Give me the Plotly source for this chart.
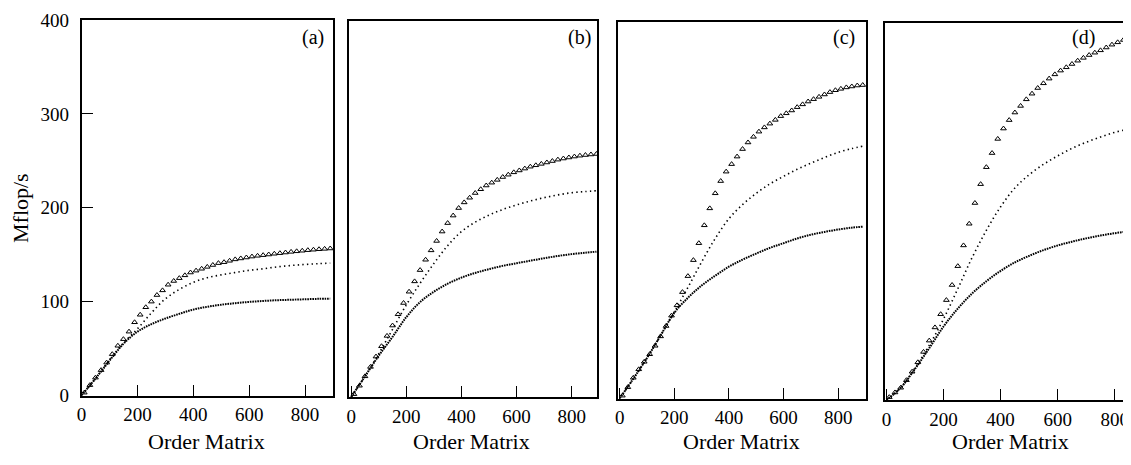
import plotly.graph_objects as go

# ---------------- data ----------------
order_tri = [10, 30, 50, 70, 90, 110, 130, 150, 170, 190, 210, 230, 250, 270, 290,
             310, 330, 350, 370, 390, 410, 430, 450, 470, 490, 510, 530, 550, 570, 590,
             610, 630, 650, 670, 690, 710, 730, 750, 770, 790, 810, 830, 850, 870, 890]
order_line = [0, 50, 100, 150, 200, 250, 300, 350, 400, 450, 500, 550, 600, 650,
              700, 750, 800, 850, 890]

# panel (a)
a_tri = [3, 11, 19, 27, 35, 44, 53, 60, 68, 78, 86, 94, 100, 107, 112,
         118, 122, 125, 128, 131, 133, 135, 137, 139, 141, 142, 143.5, 145, 146, 147,
         148, 148.8, 149.5, 150.2, 151, 151.6, 152.3, 153, 153.6, 154.2, 154.8, 155.3, 155.8, 156.2, 156.6]
a_mid = [0, 18, 38, 56, 71, 88, 103, 113, 120.5, 125.5, 128.5, 131, 133.3, 135, 137, 138.5, 139.6, 140.5, 141]
a_low = [0, 18, 37, 55, 68, 76, 82, 87, 91.5, 94.5, 96.7, 98.3, 99.7, 100.7, 101.5, 102, 102.5, 103, 103.2]

# panel (b)
b_tri = [3, 12, 22, 32, 43, 54, 65, 76, 88, 100, 112, 123, 135, 146, 156,
         166, 176, 185, 193, 201, 207, 212, 217, 221, 225, 228, 231, 234, 236.5, 239,
         241, 243, 245, 246.5, 248, 249.5, 251, 252.5, 253.7, 254.8, 255.8, 256.7, 257.4, 258, 258.5]
b_mid = [0, 22, 46, 72, 98, 121, 142, 161, 176, 186, 193.5, 199.5, 204.3, 208.5, 212, 215, 217.3, 218.6, 219.4]
b_low = [0, 22, 44, 64, 85, 101, 112, 120.5, 127, 132, 136, 139.5, 142.3, 145, 147.6, 150, 152, 153.5, 154.6]

# panel (c)
c_tri = [3, 12, 22, 31, 39, 47, 56, 66, 77, 88, 99, 113, 130, 147, 165,
         184, 202, 218, 231, 241, 249, 257, 265, 272, 278, 283.5, 288, 292, 296, 300,
         303, 306, 309.5, 312.5, 315.5, 318, 320.5, 323, 325.5, 327.5, 329, 330.5, 331.5, 332.5, 333]
c_mid = [0, 21, 43, 67, 92, 118, 145, 170, 191, 206, 218, 228, 236, 243.5, 250, 256, 261.5, 265.5, 268]
c_low = [0, 21, 43, 67, 91, 107, 120, 130.5, 140, 147.5, 154, 160, 165, 170, 174, 177, 179.5, 181.5, 182.5]

# panel (d)
d_tri = [3, 8, 13, 21, 30, 40, 51, 63, 77, 91, 106, 122, 142, 164, 187,
         209, 229, 247, 262, 277, 288, 297, 305, 312, 319, 325, 331, 336, 341, 345.5,
         349.5, 353, 356.5, 360, 363, 366, 368.5, 371, 374, 377, 379.5, 382, 384, 386, 388]
d_mid = [0, 13, 34, 58, 86, 118, 151, 180, 205, 225, 239, 250, 259, 267, 273.5, 279, 284, 287.5, 290]
d_low = [0, 13, 33, 55, 78, 97, 113, 126, 137, 146, 153, 159, 164, 168, 171.5, 174.5, 177, 179, 180.5]

panel_labels = ["(a)", "(b)", "(c)", "(d)"]
x_ticks = [0, 200, 400, 600, 800]
x_tick_text = ["0", "200", "400", "600", "800"]
y_ticks = [0, 100, 200, 300, 400]
y_tick_text = ["0", "100", "200", "300", "400"]
x_title = "Order Matrix"
y_title = "Mflop/s"

series = [(a_tri, a_mid, a_low), (b_tri, b_mid, b_low),
          (c_tri, c_mid, c_low), (d_tri, d_mid, d_low)]

# ---------------- layout geometry (screen pixels; page body offsets by 8px) ----------------
W, H = 1131, 465
OFF = 8
FONT = "Liberation Serif, Times New Roman, serif"
panels = [
    dict(x0=81.5, x1=333, y0=20, y1=395.5, xr=[0, 900], lab=(313, 37), title_x=206),
    dict(x0=349, x1=597, y0=21, y1=397, xr=[-8, 892], lab=(579, 37), title_x=471),
    dict(x0=618, x1=866, y0=22, y1=398.5, xr=[-6, 902], lab=(844, 38), title_x=741),
    dict(x0=885, x1=1131, y0=23, y1=400, xr=[-5, 883], lab=(1083, 37), title_x=1010),
]


def px(v):
    return (v - OFF) / W


def py(v):
    return 1 - (v - OFF) / H


fig = go.Figure()
layout = dict(
    template="none",
    width=W, height=H, autosize=False,
    margin=dict(l=0, r=0, t=0, b=0, pad=0),
    paper_bgcolor="white", plot_bgcolor="white",
    showlegend=False,
    font=dict(family=FONT, color="black", size=19),
)
annotations = []

for i, (p, (tri, mid, low)) in enumerate(zip(panels, series)):
    n = "" if i == 0 else str(i + 1)
    xa, ya = "x" + n, "y" + n
    fig.add_trace(go.Scatter(
        x=order_line, y=low, xaxis=xa, yaxis=ya, mode="lines",
        line=dict(color="black", width=2.0, dash="1.6px,0.9px", shape="spline"),
        hoverinfo="skip"))
    fig.add_trace(go.Scatter(
        x=order_line, y=mid, xaxis=xa, yaxis=ya, mode="lines",
        line=dict(color="black", width=1.6, dash="1.4px,3.2px", shape="spline"),
        hoverinfo="skip"))
    fig.add_trace(go.Scatter(
        x=order_tri, y=tri, xaxis=xa, yaxis=ya, mode="markers",
        marker=dict(symbol="triangle-up-open", size=5,
                    line=dict(color="black", width=1), color="black"),
        hoverinfo="skip"))

    # panel d runs to the screen edge
    x1 = p["x1"] if i < 3 else W + OFF - 0.5
    layout["xaxis" + n] = dict(
        domain=[px(p["x0"]), min(px(x1), 1.0)], range=p["xr"], anchor=ya, automargin=False,
        showgrid=False, zeroline=False, showline=True, linecolor="black", linewidth=1.5,
        mirror=True, ticks="inside", ticklen=11, tickwidth=1, tickcolor="black",
        tickvals=x_ticks, ticktext=x_tick_text, ticklabelstandoff=1,
        tickfont=dict(family=FONT, size=19, color="black"))
    layout["yaxis" + n] = dict(
        domain=[py(p["y1"]), py(p["y0"])], range=[0, 400], anchor=xa, automargin=False,
        showgrid=False, zeroline=False, showline=True, linecolor="black", linewidth=1.5,
        mirror=(i < 3),
        ticks="inside" if i == 0 else "", ticklen=12, tickwidth=1, tickcolor="black",
        tickvals=y_ticks, ticktext=y_tick_text, showticklabels=(i == 0),
        ticklabelstandoff=7,
        tickfont=dict(family=FONT, size=19, color="black"))

    annotations.append(dict(
        text=panel_labels[i], x=px(p["lab"][0]), y=py(p["lab"][1]),
        xref="paper", yref="paper", showarrow=False, xanchor="center", yanchor="middle",
        font=dict(family=FONT, size=20, color="black")))
    annotations.append(dict(
        text=x_title, x=px(p["title_x"]), y=py(441),
        xref="paper", yref="paper", showarrow=False, xanchor="center", yanchor="middle",
        font=dict(family=FONT, size=22, color="black")))

annotations.append(dict(
    text=y_title, x=px(20), y=py(208), textangle=-90,
    xref="paper", yref="paper", showarrow=False, xanchor="center", yanchor="middle",
    font=dict(family=FONT, size=22, color="black")))

layout["annotations"] = annotations
fig.update_layout(**layout)
fig.write_html("out.html")
